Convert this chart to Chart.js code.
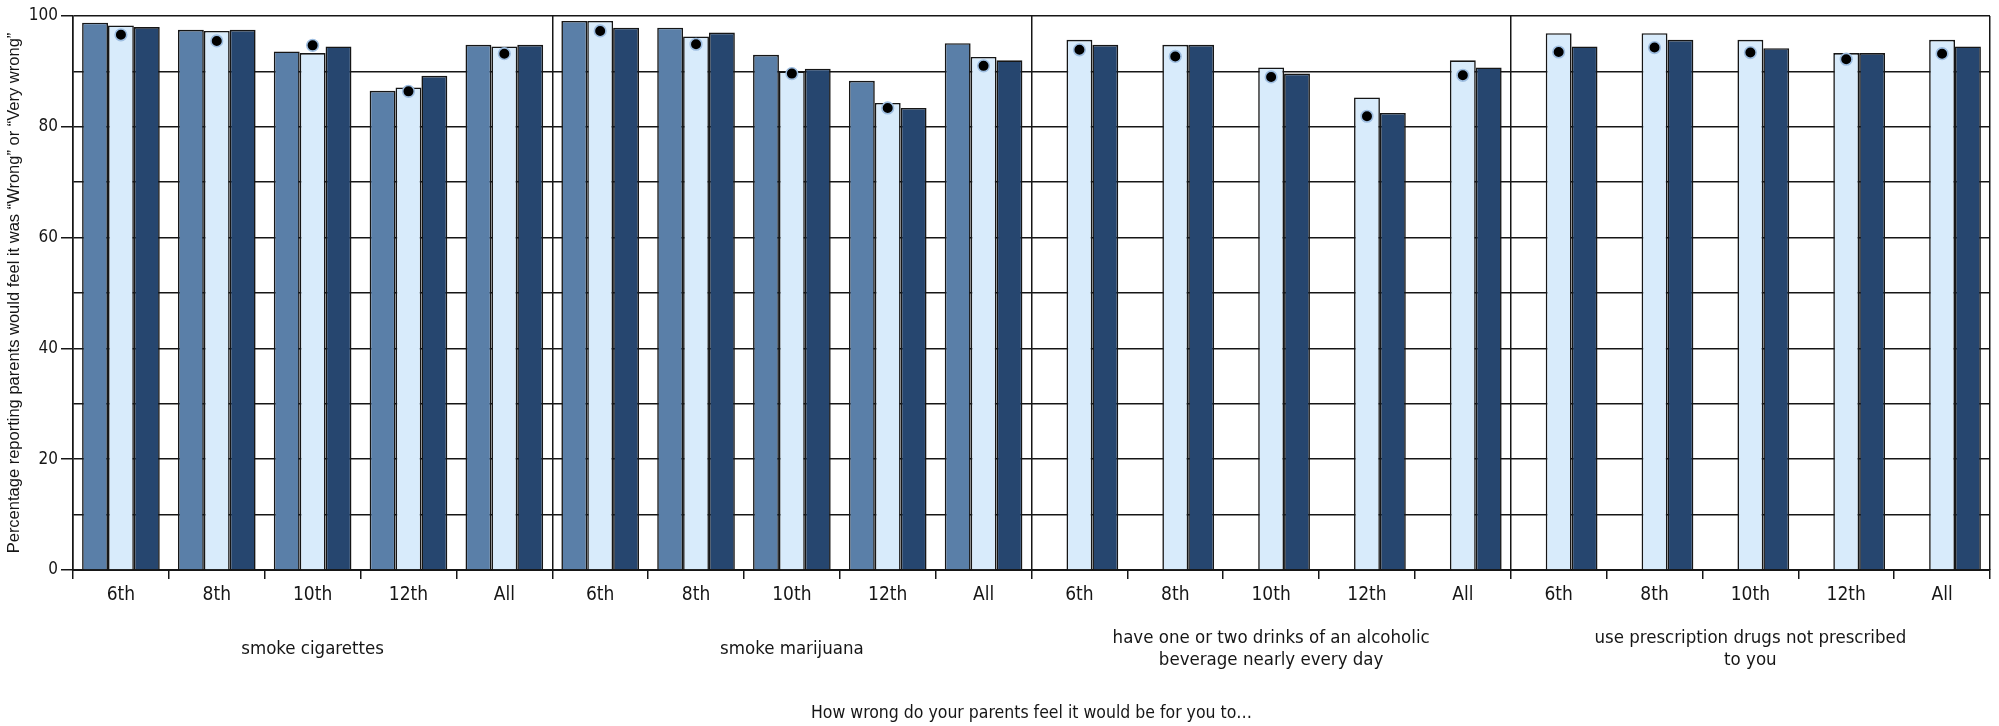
<!DOCTYPE html>
<html><head><meta charset="utf-8">
<script src="https://cdn.jsdelivr.net/npm/chart.js@4.4.1/dist/chart.umd.min.js"></script>
<style>html,body{margin:0;padding:0;background:#fff}#wrap{width:1999px;height:726px}</style>
</head><body><div id="wrap"><canvas id="c" width="1999" height="726"></canvas></div>
<script>
// ---- data ----
const grades = ['6th', '8th', '10th', '12th', 'All'];
const behaviors = [
  ['smoke cigarettes'],
  ['smoke marijuana'],
  ['have one or two drinks of an alcoholic', 'beverage nearly every day'],
  ['use prescription drugs not prescribed', 'to you']
];
// 20 values each: 4 behaviors x 5 grade groups
const seriesA = [98.8, 97.5, 93.6, 86.5, 94.8,  99.1, 97.9, 93.0, 88.3, 95.1,  null, null, null, null, null,  null, null, null, null, null];
const seriesB = [98.3, 97.3, 93.3, 87.1, 94.5,  99.1, 96.3, 90.0, 84.3, 92.6,  95.7, 94.8, 90.7, 85.3, 92.0,  96.9, 96.9, 95.7, 93.3, 95.7];
const seriesC = [98.0, 97.5, 94.5, 89.2, 94.8,  97.9, 97.0, 90.5, 83.4, 92.0,  94.8, 94.8, 89.6, 82.5, 90.7,  94.5, 95.7, 94.2, 93.3, 94.5];
const comparison = [96.6, 95.5, 94.7, 86.4, 93.2,  97.3, 94.9, 89.6, 83.4, 91.0,  93.9, 92.7, 89.0, 81.9, 89.3,  93.5, 94.3, 93.4, 92.2, 93.2];
const yTickLabels = [0, 20, 40, 60, 80, 100];
const yTitle = 'Percentage reporting parents would feel it was \u201cWrong\u201d or \u201cVery wrong\u201d';
const xTitle = 'How wrong do your parents feel it would be for you to\u2026';

// ---- chart ----
const labels = behaviors.flatMap(() => grades);
const narrow = "'Liberation Sans Narrow', 'Arial Narrow', 'DejaVu Sans Condensed', sans-serif";
const regular = "'Liberation Sans', Arial, sans-serif";
const ink = '#161616';

new Chart(document.getElementById('c'), {
  type: 'bar',
  data: {
    labels: labels,
    datasets: [
      { type: 'line', data: comparison, showLine: false, pointRadius: 5.8, pointHoverRadius: 5.8,
        pointBackgroundColor: '#000', pointBorderColor: '#9dbde0', pointBorderWidth: 1.6, order: 0 },
      { data: seriesA, backgroundColor: '#5a7fa8', borderColor: ink, borderWidth: 1.6, order: 1 },
      { data: seriesB, backgroundColor: '#d8ebfb', borderColor: ink, borderWidth: 1.6, order: 1 },
      { data: seriesC, backgroundColor: '#26466f', borderColor: ink, borderWidth: 1.6, order: 1 }
    ]
  },
  options: {
    responsive: false,
    animation: false,
    layout: { padding: { top: 16, right: 9, left: 0, bottom: 0 } },
    plugins: { legend: { display: false }, tooltip: { enabled: false } },
    datasets: { bar: { categoryPercentage: 0.81, barPercentage: 1.0 } },
    scales: {
      x: {
        position: 'bottom',
        offset: true,
        grid: { offset: true, drawOnChartArea: false, drawTicks: true, tickLength: 9, color: ink, lineWidth: 1.5 },
        border: { color: ink, width: 2 },
        ticks: { padding: 5, color: ink, font: { family: narrow, size: 19 }, maxRotation: 0, autoSkip: false },
        afterFit: s => { s.height = 50; }
      },
      x2: {
        type: 'category',
        labels: behaviors,
        position: 'bottom',
        offset: true,
        grid: { offset: true, drawOnChartArea: true, drawTicks: false, color: ink, lineWidth: 1.5 },
        border: { display: false },
        ticks: { padding: 18, crossAlign: 'center', color: ink, font: { family: narrow, size: 18.5, lineHeight: 1.18 }, maxRotation: 0, autoSkip: false },
        title: { display: true, text: xTitle, color: ink, font: { family: narrow, size: 17.5 }, padding: { top: 0, bottom: 2 } },
        afterFit: s => { s.height = 106; }
      },
      y: {
        min: 0, max: 100,
        ticks: { stepSize: 10, padding: 3, color: ink, font: { family: narrow, size: 17 },
          callback: v => yTickLabels.includes(v) ? String(v) : '' },
        grid: { color: ink, lineWidth: 1.5, tickLength: 12,
          tickColor: c => (c.tick && yTickLabels.includes(c.tick.value)) ? ink : 'rgba(0,0,0,0)' },
        border: { color: ink, width: 1.5 },
        title: { display: true, text: yTitle, color: ink, font: { family: regular, size: 16.5 }, padding: { top: 5, bottom: 0 } },
        afterFit: s => { s.width = 73; }
      }
    }
  }
});
</script>
</body></html>
